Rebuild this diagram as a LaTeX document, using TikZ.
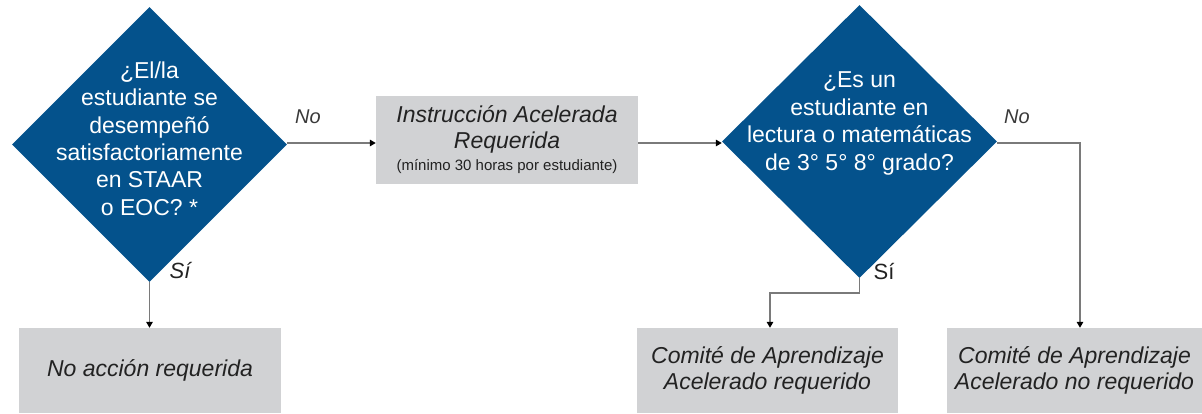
\documentclass[tikz,border=0pt]{standalone}
\usepackage{fontspec}
\setmainfont{Liberation Sans}
\usetikzlibrary{shapes.geometric,arrows.meta,calc}
\definecolor{diablue}{HTML}{04528C}
\definecolor{boxgray}{HTML}{D1D2D4}
\definecolor{linegray}{HTML}{7A7A7A}
\definecolor{labgray}{HTML}{3A3A3A}
\definecolor{txtdark}{HTML}{222222}
\begin{document}
\begin{tikzpicture}[x=1pt,y=-1pt,
  decision/.style={diamond,fill=diablue,draw=none,inner sep=0pt,minimum width=275pt,minimum height=275pt},
  dtext/.style={text=white,align=center,font=\fontsize{23}{27.4}\selectfont,inner sep=0pt},
  outbox/.style={rectangle,fill=boxgray,draw=none,inner sep=0pt,align=center,text=txtdark,
    font=\fontsize{23}{26}\selectfont\itshape},
  conn/.style={draw=linegray,line width=1.5pt,-{Triangle[length=6pt,width=6.5pt,color=black]}},
  lab/.style={inner sep=0pt,text=labgray,font=\fontsize{20}{22}\selectfont\itshape},
  labsi/.style={inner sep=0pt,text=txtdark,font=\fontsize{22}{24}\selectfont}
]
\useasboundingbox (0,0) rectangle (1202,413);

% decisions
\node[decision] (d1) at (149.5,144.5) {};
\node[dtext] (d1t) at (149.5,138.5) {¿El/la\\estudiante se\\desempeñó\\satisfactoriamente\\en STAAR\\o EOC? *};

\node[decision,minimum height=273pt] (d2) at (859.5,141.5) {};
\node[dtext] (d2t) at (859.5,123.5) {¿Es un\\estudiante en\\lectura o matemáticas\\de 3° 5° 8° grado?};

% boxes
\node[outbox,minimum width=262pt,minimum height=85pt] (b1) at (150,370.5) {No acción requerida};
\node[outbox,minimum width=262pt,minimum height=88pt] (b2) at (507,140)
  {Instrucción Acelerada\\Requerida\\[-4pt]{\upshape\fontsize{15}{17}\selectfont (mínimo 30 horas por estudiante)}};
\node[outbox,minimum width=261pt,minimum height=85pt] (b3) at (767.5,370.5) {Comité de Aprendizaje\\Acelerado requerido};
\node[outbox,minimum width=255pt,minimum height=85pt] (b4) at (1074.5,370.5) {Comité de Aprendizaje\\Acelerado no requerido};

% connectors
\coordinate (c1) at ($(d1.east)+(0,-1.5)$);
\draw[conn] (c1) -- (c1 -| b2.west);
\coordinate (c2) at ($(d2.west)+(0,1.5)$);
\draw[conn] (c2 -| b2.east) -- (c2);
\draw[conn] (d1.south) -- (d1.south |- b1.north);
\coordinate (k1) at ($(d2.south)+(0,15)$);
\coordinate (k2) at ($(b3.north)+(2.5,0)$);
\draw[conn] (d2.south) -- (k1) -| (k2);
\coordinate (k3) at ($(b4.north)+(5.5,0)$);
\draw[conn] ($(d2.east)+(0,1.5)$) -| (k3);

% labels
\node[lab] (ln1) at (308,117) {No};
\node[lab] (ln2) at (1017,117) {No};
\node[labsi,font=\fontsize{22}{24}\selectfont\itshape] (ls1) at (180,271) {Sí};
\node[labsi] (ls2) at (884,272) {Sí};
\end{tikzpicture}
\end{document}
